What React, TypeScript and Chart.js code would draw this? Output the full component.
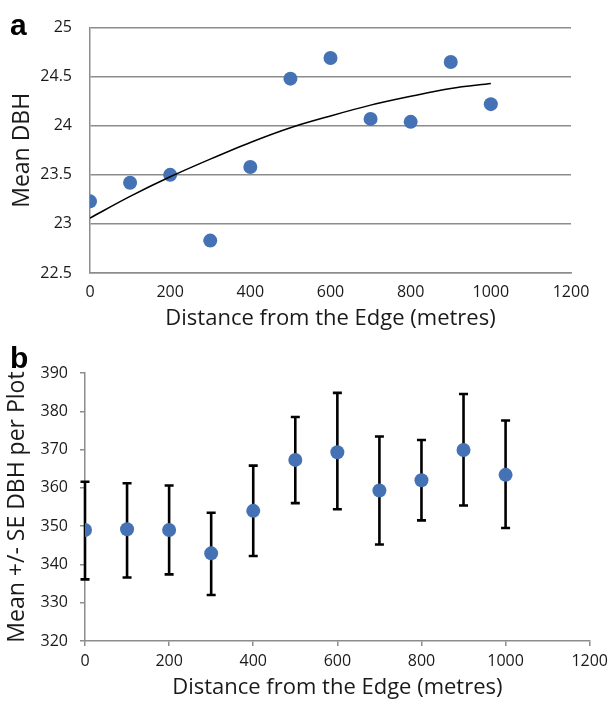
import React, { useEffect, useRef } from "react";
import { Chart, registerables } from "chart.js";

Chart.register(...registerables);

// ---- Data ----
const distances = [0, 100, 200, 300, 400, 500, 600, 700, 800, 900, 1000];
const meanDbh = [23.23, 23.42, 23.5, 22.83, 23.58, 24.48, 24.69, 24.07, 24.04, 24.65, 24.22];
const trendDbh = [23.06, 23.28, 23.48, 23.66, 23.83, 23.98, 24.1, 24.21, 24.3, 24.38, 24.43];
const plotMean = [349.0, 349.2, 349.0, 342.9, 354.0, 367.3, 369.3, 359.3, 362.0, 369.9, 363.4];
const plotUpper = [361.6, 361.2, 360.6, 353.5, 365.8, 378.5, 384.8, 373.4, 372.5, 384.5, 377.6];
const plotLower = [336.1, 336.6, 337.4, 332.0, 342.2, 356.0, 354.4, 345.2, 351.5, 355.4, 349.5];

const xTitle = "Distance from the Edge (metres)";
const yTitleA = "Mean DBH";
const yTitleB = "Mean +/- SE DBH per Plot";

const FONT = "'Open Sans', 'DejaVu Sans', sans-serif";
const BLUE = "#4472b4";
const GRID = "#8c8c8c";
const TEXT = "#1a1a1a";

const errorBarPlugin = {
  id: "errorBars",
  beforeDatasetsDraw(chart: any) {
    const xs = chart.scales.x;
    const ys = chart.scales.y;
    const ctx = chart.ctx;
    ctx.save();
    ctx.strokeStyle = "#000";
    ctx.lineWidth = 2.6;
    ctx.lineCap = "butt";
    for (let i = 0; i < distances.length; i++) {
      const px = xs.getPixelForValue(distances[i]);
      const top = ys.getPixelForValue(plotUpper[i]);
      const bot = ys.getPixelForValue(plotLower[i]);
      ctx.beginPath();
      ctx.moveTo(px, top);
      ctx.lineTo(px, bot);
      ctx.moveTo(px - 4.5, top);
      ctx.lineTo(px + 4.5, top);
      ctx.moveTo(px - 4.5, bot);
      ctx.lineTo(px + 4.5, bot);
      ctx.stroke();
    }
    ctx.restore();
  },
};

function ChartA() {
  const ref = useRef<HTMLCanvasElement | null>(null);
  useEffect(() => {
    const chart = new Chart(ref.current as HTMLCanvasElement, {
      type: "scatter",
      data: {
        datasets: [
          {
            label: "trend",
            data: distances.map((d, i) => ({ x: d, y: trendDbh[i] })),
            showLine: true,
            borderColor: "#000",
            borderWidth: 1.5,
            pointRadius: 0,
            cubicInterpolationMode: "monotone",
            fill: false,
          },
          {
            label: "Mean DBH",
            data: distances.map((d, i) => ({ x: d, y: meanDbh[i] })),
            pointRadius: 7,
            pointBackgroundColor: BLUE,
            pointBorderWidth: 0,
            backgroundColor: BLUE,
            borderColor: BLUE,
          },
        ],
      },
      options: {
        responsive: false,
        animation: false,
        layout: { padding: { top: 18, right: 43, left: 0, bottom: 0 } },
        plugins: { legend: { display: false }, tooltip: { enabled: false } },
        scales: {
          x: {
            type: "linear",
            min: 0,
            max: 1200,
            afterFit: (s: any) => {
              s.height = 59;
            },
            ticks: {
              stepSize: 200,
              padding: 10,
              color: TEXT,
              font: { family: FONT, size: 16 },
              callback: (v: any) => String(v),
            },
            grid: { display: false, drawTicks: false },
            border: { display: true, color: GRID, width: 1.5 },
            title: {
              display: true,
              text: xTitle,
              color: TEXT,
              font: { family: FONT, size: 22 },
              padding: { top: 0, bottom: 0 },
            },
          },
          y: {
            type: "linear",
            min: 22.5,
            max: 25,
            afterFit: (s: any) => {
              s.width = 90;
            },
            ticks: {
              stepSize: 0.5,
              padding: 18,
              color: TEXT,
              font: { family: FONT, size: 16 },
              callback: (v: any) => String(v),
            },
            grid: { color: GRID, lineWidth: 1.5, drawTicks: false },
            border: { display: true, color: GRID, width: 1.5 },
            title: {
              display: true,
              text: yTitleA,
              color: TEXT,
              font: { family: FONT, size: 23 },
              padding: { top: 9, bottom: 0 },
            },
          },
        },
      },
    } as any);
    return () => chart.destroy();
  }, []);
  return (
    <canvas
      ref={ref}
      width={614}
      height={332}
      style={{ position: "absolute", left: 0, top: 0, width: 614, height: 332 }}
    />
  );
}

function ChartB() {
  const ref = useRef<HTMLCanvasElement | null>(null);
  useEffect(() => {
    const chart = new Chart(ref.current as HTMLCanvasElement, {
      type: "scatter",
      data: {
        datasets: [
          {
            label: "Mean DBH per Plot",
            data: distances.map((d, i) => ({ x: d, y: plotMean[i] })),
            pointRadius: 7,
            pointBackgroundColor: BLUE,
            pointBorderWidth: 0,
            backgroundColor: BLUE,
            borderColor: BLUE,
          },
        ],
      },
      plugins: [errorBarPlugin],
      options: {
        responsive: false,
        animation: false,
        layout: { padding: { top: 41, right: 22, left: 0, bottom: 0 } },
        plugins: { legend: { display: false }, tooltip: { enabled: false } },
        scales: {
          x: {
            type: "linear",
            min: 0,
            max: 1200,
            afterFit: (s: any) => {
              s.height = 66;
            },
            ticks: {
              stepSize: 200,
              padding: 6,
              color: TEXT,
              font: { family: FONT, size: 16 },
              callback: (v: any) => String(v),
            },
            grid: {
              drawOnChartArea: false,
              drawTicks: true,
              tickLength: 5,
              color: GRID,
              lineWidth: 1.5,
            },
            border: { display: true, color: GRID, width: 1.5 },
            title: {
              display: true,
              text: xTitle,
              color: TEXT,
              font: { family: FONT, size: 22 },
              padding: { top: 0, bottom: 6 },
            },
          },
          y: {
            type: "linear",
            min: 320,
            max: 390,
            afterFit: (s: any) => {
              s.width = 85;
            },
            ticks: {
              stepSize: 10,
              padding: 12,
              color: TEXT,
              font: { family: FONT, size: 16 },
              callback: (v: any) => String(v),
            },
            grid: {
              drawOnChartArea: false,
              drawTicks: true,
              tickLength: 5,
              color: GRID,
              lineWidth: 1.5,
            },
            border: { display: true, color: GRID, width: 1.5 },
            title: {
              display: true,
              text: yTitleB,
              color: TEXT,
              font: { family: FONT, size: 23 },
              padding: { top: 4, bottom: 0 },
            },
          },
        },
      },
    } as any);
    return () => chart.destroy();
  }, []);
  return (
    <canvas
      ref={ref}
      width={614}
      height={375}
      style={{ position: "absolute", left: 0, top: 332, width: 614, height: 375 }}
    />
  );
}

const panelLabel: React.CSSProperties = {
  position: "absolute",
  left: 10,
  fontFamily: "'Liberation Sans', Arial, sans-serif",
  fontWeight: "bold",
  fontSize: 30,
  lineHeight: "30px",
  color: "#000",
  margin: 0,
};

export default function App() {
  return (
    <div
      style={{
        position: "absolute",
        left: 0,
        top: 0,
        width: 614,
        height: 707,
        background: "#fff",
        overflow: "hidden",
      }}
    >
      <ChartA />
      <ChartB />
      <div style={{ ...panelLabel, top: 10 }}>a</div>
      <div style={{ ...panelLabel, top: 343 }}>b</div>
    </div>
  );
}
